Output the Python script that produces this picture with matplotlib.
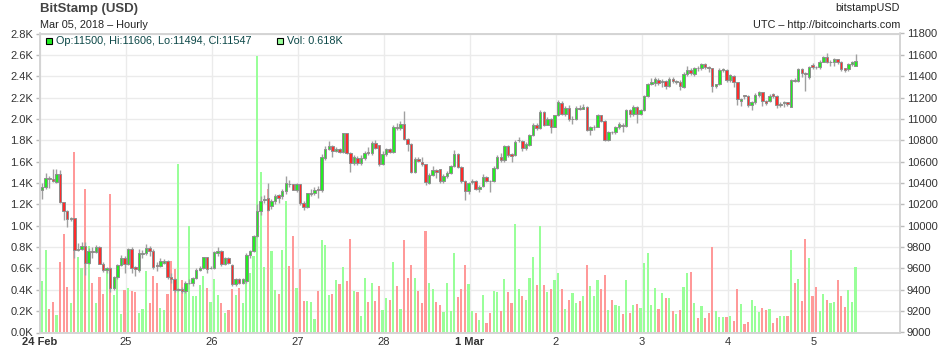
import numpy as np
import matplotlib.pyplot as plt
from matplotlib.patches import Rectangle

plt.rcParams['font.family'] = ['Liberation Sans', 'DejaVu Sans']

# ======================
# DATA (hourly, from Feb 24 00:00)
# ======================
opens = [
    10333, 10364, 10449, 10440, 10410, 10480, 10220, 10140, 10060, 10070, 9770, 9780,
    9810, 9650, 9766, 9750, 9800, 9645, 9585, 9600, 9415, 9518, 9634, 9697,
    9640, 9784, 9610, 9585, 9737, 9745, 9790, 9765, 9630, 9625, 9655, 9665,
    9524, 9499, 9395, 9409, 9390, 9460, 9460, 9509, 9587, 9603, 9703, 9600,
    9603, 9745, 9760, 9644, 9697, 9634, 9456, 9499, 9468, 9478, 9728, 9760,
    9900, 10140, 10240, 10261, 10180, 10230, 10283, 10276, 10323, 10390, 10386, 10339,
    10386, 10214, 10176, 10295, 10302, 10340, 10330, 10635, 10721, 10750, 10700, 10721,
    10690, 10865, 10684, 10590, 10637, 10583, 10637, 10690, 10684, 10778, 10753, 10580,
    10668, 10715, 10690, 10925, 10919, 10956, 10809, 10762, 10502, 10621, 10596, 10574,
    10402, 10477, 10518, 10527, 10417, 10465, 10496, 10558, 10674, 10552, 10417, 10323,
    10405, 10417, 10345, 10370, 10458, 10420, 10417, 10543, 10640, 10612, 10746, 10668,
    10660, 10800, 10793, 10725, 10756, 10847, 10947, 10916, 11063, 10947, 11003, 10928,
    11035, 11147, 11050, 11107, 11000, 10997, 11107, 11097, 11116, 10897, 10925, 10928,
    11035, 10981, 10803, 10880, 10878, 10928, 10941, 10934, 11082, 11044, 11116, 11050,
    11082, 11216, 11326, 11335, 11367, 11342, 11351, 11310, 11373, 11348, 11348, 11295,
    11420, 11461, 11420, 11476, 11473, 11514, 11483, 11473, 11304, 11326, 11461, 11461,
    11367, 11404, 11342, 11169, 11220, 11216, 11129, 11154, 11223, 11248, 11169, 11169,
    11232, 11216, 11129, 11147, 11154, 11116, 11367, 11357, 11467, 11429, 11389, 11505,
    11486, 11483, 11536, 11577, 11530, 11530, 11561, 11530, 11473, 11467, 11514, 11500,
]
highs = [
    10400, 10496, 10470, 10530, 10530, 10520, 10225, 10150, 10080, 10075, 9840, 9850,
    9850, 9790, 9800, 9815, 9810, 9660, 9610, 9610, 9530, 9640, 9730, 9720,
    9790, 9800, 9620, 9780, 9770, 9830, 9810, 9780, 9660, 9700, 9690, 9680,
    9560, 9510, 9420, 9430, 9480, 9500, 9520, 9600, 9620, 9710, 9710, 9620,
    9760, 9800, 9770, 9710, 9710, 9640, 9510, 9510, 9510, 9740, 9770, 9910,
    10200, 10280, 10290, 10400, 10250, 10300, 10300, 10340, 10470, 10430, 10395, 10400,
    10390, 10230, 10310, 10340, 10360, 10370, 10670, 10750, 10790, 10760, 10740, 10730,
    10870, 10870, 10690, 10660, 10650, 10660, 10700, 10740, 10790, 10800, 10760, 10700,
    10730, 10730, 10940, 10960, 10985, 11075, 10820, 10770, 10640, 10640, 10640, 10580,
    10490, 10560, 10530, 10530, 10480, 10510, 10570, 10710, 10680, 10560, 10430, 10410,
    10440, 10430, 10380, 10480, 10470, 10430, 10560, 10660, 10680, 10760, 10760, 10680,
    10800, 10835, 10800, 10780, 10860, 10960, 10960, 11080, 11070, 11020, 11010, 11040,
    11175, 11170, 11120, 11130, 11030, 11120, 11130, 11140, 11120, 10935, 10940, 11050,
    11040, 10990, 10890, 10890, 10935, 10970, 10960, 11090, 11090, 11130, 11125, 11090,
    11225, 11340, 11380, 11390, 11380, 11370, 11360, 11390, 11390, 11360, 11360, 11440,
    11495, 11480, 11490, 11500, 11525, 11520, 11500, 11480, 11330, 11480, 11480, 11470,
    11420, 11410, 11345, 11200, 11225, 11225, 11170, 11240, 11265, 11255, 11180, 11230,
    11240, 11225, 11160, 11165, 11160, 11370, 11380, 11480, 11480, 11440, 11500, 11520,
    11500, 11550, 11590, 11620, 11550, 11570, 11565, 11540, 11480, 11520, 11545, 11606,
]
lows = [
    10250, 10345, 10350, 10405, 10400, 10215, 10050, 9990, 10040, 9700, 9760, 9770,
    9540, 9640, 9700, 9740, 9640, 9570, 9560, 9380, 9400, 9500, 9620, 9560,
    9630, 9560, 9530, 9570, 9700, 9730, 9720, 9590, 9580, 9610, 9640, 9500,
    9460, 9380, 9390, 9370, 9370, 9450, 9440, 9500, 9580, 9590, 9560, 9590,
    9590, 9720, 9620, 9630, 9640, 9440, 9440, 9450, 9450, 9460, 9700, 9750,
    9890, 10100, 10210, 10140, 10160, 10200, 10210, 10250, 10300, 10360, 10330, 10320,
    10190, 10150, 10170, 10280, 10290, 10260, 10320, 10620, 10710, 10640, 10690, 10680,
    10680, 10670, 10500, 10570, 10570, 10570, 10620, 10660, 10660, 10720, 10560, 10570,
    10650, 10680, 10680, 10900, 10900, 10800, 10700, 10490, 10495, 10600, 10560, 10380,
    10390, 10470, 10450, 10400, 10400, 10450, 10480, 10550, 10540, 10400, 10239, 10300,
    10390, 10330, 10320, 10360, 10410, 10320, 10410, 10530, 10600, 10600, 10640, 10600,
    10650, 10780, 10700, 10710, 10750, 10840, 10900, 10910, 10930, 10940, 10870, 10920,
    11030, 11040, 11030, 10980, 10950, 10990, 11080, 11090, 10890, 10850, 10900, 10920,
    10970, 10790, 10790, 10860, 10860, 10910, 10880, 10920, 11020, 11030, 10960, 11040,
    11070, 11210, 11320, 11310, 11320, 11300, 11280, 11300, 11340, 11330, 11270, 11290,
    11400, 11410, 11400, 11450, 11460, 11470, 11440, 11250, 11290, 11320, 11440, 11350,
    11350, 11300, 11130, 11120, 11190, 11110, 11080, 11140, 11210, 11120, 11130, 11160,
    11200, 11100, 11110, 11110, 11120, 11110, 11350, 11350, 11390, 11260, 11370, 11470,
    11470, 11470, 11530, 11520, 11500, 11500, 11510, 11450, 11440, 11450, 11500, 11494,
]
closes = [
    10364, 10449, 10440, 10415, 10480, 10223, 10142, 10065, 10072, 9775, 9780, 9810,
    9650, 9766, 9750, 9800, 9645, 9585, 9600, 9415, 9518, 9634, 9697, 9640,
    9784, 9603, 9590, 9740, 9745, 9790, 9765, 9612, 9620, 9665, 9665, 9524,
    9499, 9399, 9405, 9390, 9468, 9468, 9509, 9587, 9603, 9703, 9593, 9606,
    9753, 9760, 9644, 9697, 9650, 9456, 9499, 9468, 9499, 9728, 9759, 9900,
    10140, 10235, 10250, 10151, 10236, 10276, 10255, 10323, 10396, 10386, 10339, 10386,
    10214, 10176, 10302, 10310, 10330, 10330, 10646, 10721, 10750, 10700, 10721, 10690,
    10865, 10684, 10590, 10646, 10590, 10637, 10684, 10684, 10778, 10731, 10580, 10668,
    10715, 10690, 10928, 10919, 10956, 10809, 10762, 10502, 10621, 10610, 10574, 10408,
    10477, 10518, 10505, 10417, 10465, 10496, 10558, 10674, 10552, 10417, 10323, 10402,
    10417, 10345, 10360, 10458, 10420, 10415, 10543, 10646, 10615, 10746, 10659, 10652,
    10787, 10803, 10731, 10762, 10847, 10941, 10916, 11063, 10947, 11003, 10925, 11035,
    11154, 11050, 11107, 10997, 11003, 11107, 11097, 11116, 10897, 10928, 10928, 11035,
    10981, 10803, 10878, 10876, 10928, 10950, 10934, 11082, 11044, 11116, 11044, 11082,
    11216, 11326, 11342, 11373, 11335, 11357, 11310, 11373, 11357, 11350, 11304, 11420,
    11461, 11429, 11473, 11473, 11514, 11483, 11480, 11304, 11326, 11461, 11467, 11367,
    11411, 11342, 11191, 11191, 11216, 11129, 11154, 11223, 11248, 11169, 11147, 11216,
    11216, 11129, 11144, 11154, 11138, 11367, 11357, 11467, 11429, 11420, 11483, 11483,
    11483, 11536, 11577, 11530, 11533, 11561, 11530, 11467, 11461, 11514, 11530, 11547,
]
# volume in thousands of BTC
volume_k = [
    0.486, 0.768, 0.222, 0.288, 0.160, 0.664, 0.918, 0.429, 0.279, 1.690, 0.708, 0.600,
    1.340, 0.808, 0.467, 0.273, 0.523, 0.363, 0.573, 1.300, 0.348, 0.530, 0.175, 0.400,
    0.420, 0.390, 0.380, 0.185, 0.222, 0.573, 0.279, 0.533, 0.460, 0.232, 0.213, 0.363,
    0.670, 0.592, 1.576, 0.495, 0.450, 1.000, 0.345, 0.338, 0.448, 0.530, 0.414, 0.288,
    0.504, 0.351, 0.276, 0.182, 0.210, 0.410, 0.348, 0.417, 0.276, 0.730, 0.558, 0.714,
    2.590, 1.500, 0.610, 1.340, 0.760, 0.400, 0.363, 0.768, 1.230, 0.627, 0.908, 0.414,
    0.598, 0.298, 0.298, 0.288, 0.128, 0.385, 0.865, 0.815, 0.348, 0.363, 0.495, 0.457,
    0.611, 0.486, 0.877, 0.390, 0.382, 0.150, 0.514, 0.288, 0.467, 0.298, 0.439, 0.213,
    0.326, 0.307, 0.664, 0.439, 0.222, 0.865, 0.514, 0.636, 0.514, 0.390, 0.279, 0.946,
    0.467, 0.410, 0.288, 0.254, 0.194, 0.467, 0.204, 0.749, 0.335, 0.410, 0.636, 0.457,
    0.204, 0.185, 0.119, 0.354, 0.085, 0.185, 0.390, 0.382, 0.204, 0.504, 0.382, 0.279,
    1.020, 0.410, 0.345, 0.307, 0.514, 0.711, 0.448, 1.000, 0.448, 0.382, 0.410, 0.495,
    0.561, 0.410, 0.222, 0.307, 0.370, 0.279, 0.298, 0.338, 0.636, 0.432, 0.338, 0.495,
    0.410, 0.542, 0.213, 0.307, 0.260, 0.244, 0.175, 0.495, 0.185, 0.260, 0.270, 0.232,
    0.655, 0.749, 0.260, 0.420, 0.222, 0.373, 0.326, 0.326, 0.204, 0.175, 0.213, 0.429,
    0.561, 0.570, 0.279, 0.138, 0.250, 0.138, 0.185, 0.796, 0.204, 0.147, 0.147, 0.147,
    0.157, 0.110, 0.410, 0.270, 0.081, 0.100, 0.307, 0.250, 0.194, 0.232, 0.213, 0.222,
    0.091, 0.138, 0.157, 0.157, 0.157, 0.777, 0.467, 0.504, 0.298, 0.871, 0.702, 0.345,
    0.429, 0.204, 0.363, 0.307, 0.279, 0.288, 0.495, 0.345, 0.241, 0.401, 0.288, 0.618,
]

day_labels = ['24 Feb', '25', '26', '27', '28', '1 Mar', '2', '3', '4', '5']
bold_days = ['24 Feb', '1 Mar']

o = np.array(opens, dtype=float)
h = np.array(highs, dtype=float)
l = np.array(lows, dtype=float)
c = np.array(closes, dtype=float)
v = np.array(volume_k)
t = np.arange(len(o)) + 0.6      # hours since Feb 24 00:00
up = c >= o

W, H = 940, 348
fig = plt.figure(figsize=(W / 100, H / 100), dpi=100)
fig.patch.set_facecolor('white')

def px(x, y):
    return x / W, 1 - y / H

# ======================
# VOLUME (left axis)
# ======================
ax = fig.add_axes([40 / W, (H - 332.5) / H, 860 / W, 299 / H])
ax.bar(t, v, width=0.6, color=np.where(up, '#99ff99', '#ff9999'), zorder=2)
ax.set_xlim(0, 240)
ax.set_ylim(0, 2.8)
ax.set_yticks(np.arange(0, 2.81, 0.2))
ax.set_yticklabels([f"{y:.1f}K" for y in np.arange(0, 2.81, 0.2)])
ax.set_xticks(np.arange(len(day_labels)) * 24)
ax.set_xticklabels(day_labels)
for lbl in ax.get_xticklabels():
    if lbl.get_text() in bold_days:
        lbl.set_fontweight('bold')
ax.set_axisbelow(True)
ax.grid(True, color='#ebebeb', lw=1)
ax.tick_params(axis='y', direction='out', length=3, width=1, color='#bbbbbb',
               labelsize=8, labelcolor='#333333', pad=2)
ax.tick_params(axis='x', length=0, labelsize=8, labelcolor='#333333', pad=3)

# ======================
# PRICE CANDLES (right axis)
# ======================
ax2 = ax.twinx()
ax2.set_ylim(9000, 11800)
ax2.set_yticks(np.arange(9000, 11801, 200))
ax2.vlines(t, l, h, color='#a0a0a0', lw=1, zorder=3)
body_lo = np.minimum(o, c)
body_h = np.maximum(np.abs(c - o), 3)
ax2.bar(t, body_h, bottom=body_lo, width=0.7,
        color=np.where(up, '#22ee22', '#ff2b2b'),
        edgecolor='#8e8e8e', lw=0.7, zorder=4)
ax2.tick_params(axis='y', direction='out', length=3, width=1, color='#bbbbbb',
                labelsize=8, labelcolor='#333333', pad=2)

for a in (ax, ax2):
    for s in a.spines.values():
        s.set_color('#d4d4d4')
        s.set_linewidth(1.2)

# ======================
# HEADER TEXT
# ======================
fig.text(*px(40, 9), "BitStamp (USD)", fontsize=9.5, fontweight='bold',
         color='#444444', va='center', ha='left')
fig.text(*px(40, 25), "Mar 05, 2018 \u2013 Hourly", fontsize=7.8,
         color='#222222', va='center', ha='left')
fig.text(*px(900, 8), "bitstampUSD", fontsize=7.8, color='#222222',
         va='center', ha='right')
fig.text(*px(900, 25), "UTC \u2013 http://bitcoincharts.com", fontsize=7.8,
         color='#222222', va='center', ha='right')

# last candle readout
fig.patches.append(Rectangle(px(46, 44), 6 / W, 6 / H, transform=fig.transFigure,
                             facecolor='#22ee22', edgecolor='black', lw=0.8))
fig.text(*px(56, 41),
         f"Op:{opens[-1]}, Hi:{highs[-1]}, Lo:{lows[-1]}, Cl:{closes[-1]}",
         fontsize=7.8, color='#0b4747', va='center', ha='left')
fig.patches.append(Rectangle(px(277, 44), 6 / W, 6 / H, transform=fig.transFigure,
                             facecolor='#99ff99', edgecolor='black', lw=0.8))
fig.text(*px(287, 41), f"Vol: {volume_k[-1]:.3f}K",
         fontsize=7.8, color='#0b4747', va='center', ha='left')

fig.savefig('out.png', dpi=100)
